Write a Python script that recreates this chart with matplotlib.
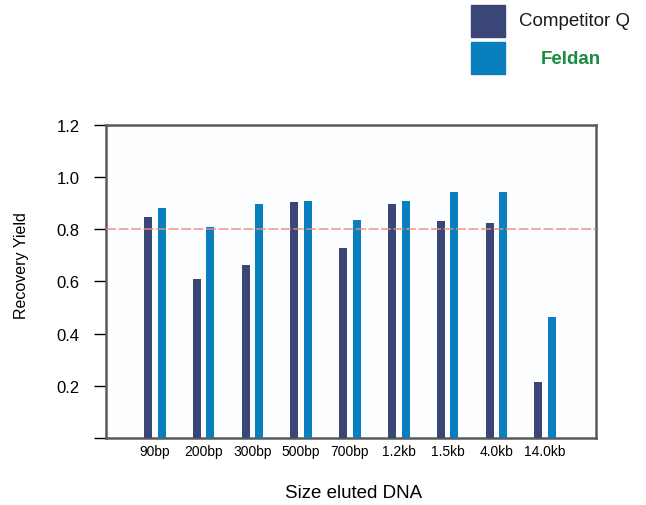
import matplotlib
matplotlib.use("Agg")
import matplotlib.pyplot as plt
import matplotlib.patches as mpatches
import numpy as np

categories = ["90bp", "200bp", "300bp", "500bp", "700bp", "1.2kb", "1.5kb", "4.0kb", "14.0kb"]
competitor_q = [0.848, 0.609, 0.663, 0.905, 0.728, 0.897, 0.833, 0.826, 0.215]
feldan = [0.880, 0.810, 0.899, 0.908, 0.835, 0.909, 0.944, 0.943, 0.462]
threshold = 0.8
y_ticks = [0.0, 0.2, 0.4, 0.6, 0.8, 1.0, 1.2]
y_tick_labels = ["", "0.2", "0.4", "0.6", "0.8", "1.0", "1.2"]

c_comp = "#3b4678"
c_feld = "#0a7fbd"

plt.rcParams['font.family'] = ['Liberation Sans', 'DejaVu Sans']

fig = plt.figure(figsize=(6.46, 5.06), dpi=100)
ax = fig.add_axes([0.164, 0.1324, 0.7586, 0.6186])

x = np.arange(len(categories))
w = 0.165
ax.bar(x - 0.14, competitor_q, width=w, color=c_comp, zorder=3)
ax.bar(x + 0.14, feldan, width=w, color=c_feld, zorder=3)
ax.axhline(threshold, color="#f08a7a", lw=1.2, ls=(0, (6, 1.5)), alpha=0.85, zorder=4)

ax.set_xlim(-1.0, 9.04)
ax.set_ylim(0, 1.2)
ax.set_yticks(y_ticks)
ax.set_yticklabels(y_tick_labels, fontsize=12)
ax.set_xticks(x)
ax.set_xticklabels(categories, fontsize=10)
ax.tick_params(axis='x', length=0, pad=4)
ax.tick_params(axis='y', length=9, width=1, direction='out', pad=10)
for s in ax.spines.values():
    s.set_color("#5a5a5a")
    s.set_linewidth(1.8)
ax.set_facecolor("#fcfdfe")

ax.set_ylabel("Recovery Yield", fontsize=11.5)
ax.yaxis.set_label_coords(-0.158, 0.553)
ax.set_xlabel("Size eluted DNA", fontsize=13.5)
ax.xaxis.set_label_coords(0.506, -0.147)

# legend
fig.patches.append(mpatches.Rectangle((471/646, 1-38/506), 34/646, 32/506,
                                      transform=fig.transFigure, color=c_comp))
fig.patches.append(mpatches.Rectangle((471/646, 1-75/506), 34/646, 32/506,
                                      transform=fig.transFigure, color=c_feld))
fig.text(519/646, 1-22/506, "Competitor Q", fontsize=13.5, va="center", ha="left", color="#1a1a1a")
fig.text(571/646, 1-59/506, "Feldan", fontsize=13.5, va="center", ha="center",
         color="#1a8c3c", fontweight="bold")

fig.savefig("out.png", dpi=100)
